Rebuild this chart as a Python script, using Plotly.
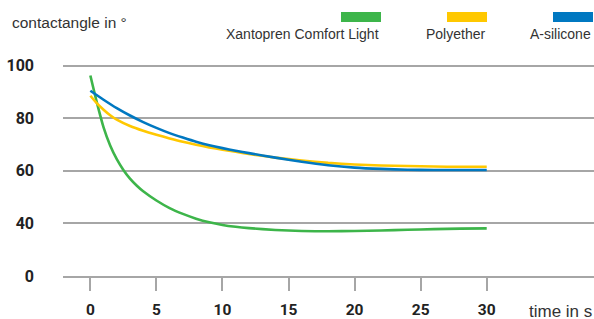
import plotly.graph_objects as go

# ---- data ----
green_t = [0, 0.5, 1, 1.5, 2, 2.5, 3, 3.5, 4, 5, 6, 7, 8, 9, 10, 11, 12, 14, 16, 18, 20, 22, 24, 26, 28, 30]
green_v = [96.2, 85.8, 76.5, 69.6, 64.4, 60.3, 57.0, 54.4, 52.2, 48.7, 45.8, 43.6, 41.8, 40.4, 39.4, 38.7, 38.2, 37.5, 37.1, 37.0, 37.1, 37.3, 37.6, 37.8, 38.0, 38.1]
yellow_t = [0, 0.5, 1, 1.5, 2, 3, 4, 5, 6, 7, 8, 9, 10, 11, 12, 13, 14, 16, 18, 20, 22, 24, 26, 28, 30]
yellow_v = [88.5, 85.6, 83.2, 81.1, 79.4, 77.0, 75.2, 73.7, 72.3, 71.0, 69.9, 68.9, 68.0, 67.2, 66.4, 65.7, 65.0, 63.9, 63.0, 62.4, 62.0, 61.8, 61.6, 61.5, 61.5]
blue_t = [0, 1, 2, 3, 4, 5, 6, 7, 8, 9, 10, 11, 12, 14, 16, 18, 20, 22, 24, 26, 28, 30]
blue_v = [90.4, 87.0, 83.8, 81.0, 78.5, 76.3, 74.3, 72.6, 71.0, 69.7, 68.6, 67.6, 66.7, 65.0, 63.4, 62.1, 61.2, 60.7, 60.4, 60.3, 60.3, 60.3]
series = [
    ("Xantopren Comfort Light", green_t, green_v, "#3db54a"),
    ("Polyether", yellow_t, yellow_v, "#ffc800"),
    ("A-silicone", blue_t, blue_v, "#0078c1"),
]
x_ticks = [0, 5, 10, 15, 20, 25, 30]
y_tickvals = [20, 40, 60, 80, 100]
y_ticktext = ["0", "40", "60", "80", "100"]

W, H = 594, 319
L, R, T, B = 63, 0, 60, 43
FONT = "Liberation Sans, Arial, sans-serif"
NUMFONT = "Roboto, sans-serif"
GRID = "#a6a6a6"
TXT = "#333333"

fig = go.Figure()
for name, t, v, c in series:
    fig.add_trace(go.Scatter(x=t, y=v, mode="lines", name=name,
                             line=dict(color=c, width=2.6, shape="spline", smoothing=0.6),
                             showlegend=False, hoverinfo="skip"))

fig.update_layout(
    width=W, height=H,
    margin=dict(l=L, r=R, t=T, b=B),
    paper_bgcolor="white", plot_bgcolor="white",
    font=dict(family=FONT, color=TXT),
)
fig.update_xaxes(range=[-2.07, 38.12], tickvals=x_ticks, ticks="outside", ticklen=13,
                 tickcolor=GRID, tickwidth=1.5, showgrid=False, zeroline=False,
                 showline=True, linecolor=GRID, linewidth=1.5, automargin=False,
                 tickfont=dict(family=NUMFONT, size=15.5, color="#222222", weight="bold"),
                 ticklabelstandoff=6)
fig.update_yaxes(range=[20, 102.1], tickvals=y_tickvals, ticktext=y_ticktext,
                 showgrid=True, gridcolor=GRID, gridwidth=1.5, zeroline=False,
                 showline=False, ticks="", automargin=False,
                 tickfont=dict(family=NUMFONT, size=16, color="#222222", weight="bold"),
                 ticklabelstandoff=28)

def px(x):
    return (x - L) / (W - L - R)

def py(y):
    return (H - B - y) / (H - T - B)

fig.add_annotation(text="contactangle in °", xref="paper", yref="paper", x=px(10), y=py(22),
                   xanchor="left", yanchor="middle", showarrow=False,
                   font=dict(family=FONT, size=15.5, color=TXT))
fig.add_annotation(text="time in s", xref="paper", yref="paper", x=px(594), y=py(311),
                   xanchor="right", yanchor="middle", showarrow=False,
                   font=dict(family=FONT, size=17, color=TXT))

legend_right = [381, 487, 593]
for (name, _, _, c), xr in zip(series, legend_right):
    fig.add_shape(type="rect", xref="paper", yref="paper",
                  x0=px(xr - 40), x1=px(xr), y0=py(22), y1=py(12),
                  fillcolor=c, line=dict(width=0))
    fig.add_annotation(text=name, xref="paper", yref="paper", x=px(xr), y=py(34),
                       xanchor="right", yanchor="middle", showarrow=False,
                       font=dict(family=FONT, size=14, color=TXT))

fig.write_html("out.html", config={"displayModeBar": False},
               post_script="document.body.style.margin='0';")
